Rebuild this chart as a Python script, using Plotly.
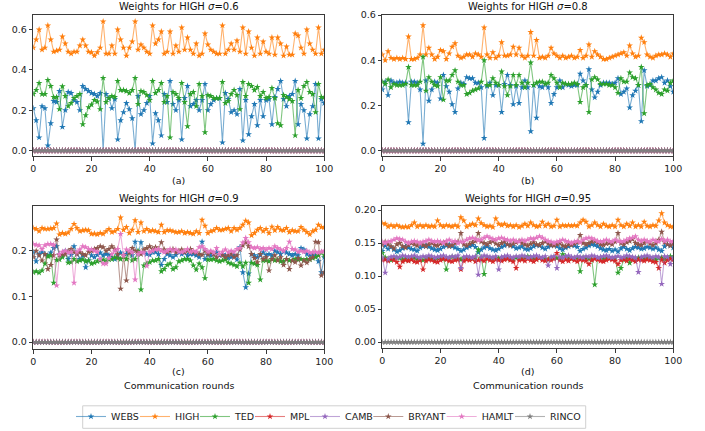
import plotly.graph_objects as go

rounds = list(range(101))
series_names = ["WEBS", "HIGH", "TED", "MPL", "CAMB", "BRYANT", "HAMLT", "RINCO"]
series_colors = ["#1f77b4", "#ff7f0e", "#2ca02c", "#d62728", "#9467bd", "#8c564b", "#e377c2", "#7f7f7f"]
panel_titles = ["Weights for HIGH <i>σ</i>=0.6", "Weights for HIGH <i>σ</i>=0.8",
                "Weights for HIGH <i>σ</i>=0.9", "Weights for HIGH <i>σ</i>=0.95"]
panel_letters = ["(a)", "(b)", "(c)", "(d)"]
x_label = "Communication rounds"
x_ticks = [0, 20, 40, 60, 80, 100]
y_ticks = [[0.0, 0.2, 0.4, 0.6], [0.0, 0.2, 0.4, 0.6], [0.0, 0.1, 0.2], [0.0, 0.05, 0.10, 0.15, 0.20]]
y_ticktext = [["0.0", "0.2", "0.4", "0.6"], ["0.0", "0.2", "0.4", "0.6"], ["0.0", "0.1", "0.2"],
              ["0.00", "0.05", "0.10", "0.15", "0.20"]]

zeros = [0.0] * 101

# ---------------- panel (a) sigma = 0.6 ----------------
HIGH_a = [0.51, 0.55, 0.60, 0.50, 0.51, 0.62, 0.55, 0.49, 0.495, 0.50,
          0.565, 0.53, 0.49, 0.48, 0.49, 0.49, 0.52, 0.55, 0.52, 0.49,
          0.487, 0.47, 0.487, 0.51, 0.64, 0.48, 0.48, 0.52, 0.48, 0.60,
          0.55, 0.51, 0.47, 0.51, 0.54, 0.64, 0.50, 0.525, 0.51, 0.49,
          0.48, 0.62, 0.53, 0.55, 0.59, 0.48, 0.49, 0.59, 0.48, 0.52,
          0.49, 0.61, 0.50, 0.56, 0.50, 0.48, 0.53, 0.47, 0.48, 0.58,
          0.525, 0.50, 0.49, 0.48, 0.48, 0.62, 0.48, 0.50, 0.53, 0.50,
          0.545, 0.49, 0.61, 0.48, 0.59, 0.51, 0.47, 0.56, 0.48, 0.54,
          0.49, 0.48, 0.56, 0.475, 0.56, 0.53, 0.47, 0.515, 0.475, 0.475,
          0.58, 0.57, 0.51, 0.48, 0.60, 0.53, 0.50, 0.48, 0.61, 0.48,
          0.50]
WEBS_a = [0.21, 0.15, 0.065, 0.22, 0.21, 0.025, 0.135, 0.245, 0.24, 0.295,
          0.117, 0.20, 0.29, 0.285, 0.25, 0.24, 0.20, 0.32, 0.305, 0.295,
          0.285, 0.28, 0.27, 0.285, 0.0, 0.28, 0.26, 0.21, 0.255, 0.055,
          0.15, 0.19, 0.235, 0.205, 0.16, 0.0, 0.27, 0.18, 0.20, 0.235,
          0.27, 0.035, 0.185, 0.15, 0.075, 0.28, 0.24, 0.345, 0.23, 0.20,
          0.25, 0.055, 0.26, 0.32, 0.22, 0.23, 0.25, 0.20, 0.25, 0.33,
          0.20, 0.23, 0.25, 0.26, 0.26, 0.04, 0.285, 0.255, 0.19, 0.20,
          0.18, 0.305, 0.05, 0.25, 0.08, 0.17, 0.23, 0.125, 0.25, 0.17,
          0.25, 0.255, 0.13, 0.265, 0.305, 0.345, 0.255, 0.22, 0.27, 0.28,
          0.345, 0.13, 0.23, 0.20, 0.06, 0.18, 0.22, 0.33, 0.06, 0.255,
          0.235]
TED_a = [0.28, 0.30, 0.335, 0.28, 0.28, 0.35, 0.32, 0.265, 0.265, 0.205,
         0.318, 0.27, 0.22, 0.235, 0.26, 0.27, 0.28, 0.13, 0.175, 0.215,
         0.228, 0.25, 0.243, 0.205, 0.36, 0.24, 0.26, 0.27, 0.265, 0.345,
         0.30, 0.30, 0.295, 0.285, 0.30, 0.36, 0.23, 0.295, 0.29, 0.275,
         0.25, 0.345, 0.285, 0.30, 0.335, 0.24, 0.27, 0.065, 0.29, 0.28,
         0.26, 0.335, 0.24, 0.12, 0.28, 0.29, 0.22, 0.33, 0.27, 0.09,
         0.275, 0.27, 0.26, 0.26, 0.26, 0.34, 0.235, 0.245, 0.28, 0.30,
         0.275, 0.205, 0.34, 0.27, 0.33, 0.32, 0.30, 0.315, 0.27, 0.29,
         0.26, 0.265, 0.31, 0.26, 0.135, 0.125, 0.275, 0.265, 0.255, 0.245,
         0.075, 0.30, 0.26, 0.32, 0.34, 0.29, 0.28, 0.19, 0.33, 0.265,
         0.265]

# ---------------- panel (b) sigma = 0.8 ----------------
HIGH_b = [0.425, 0.40, 0.44, 0.41, 0.405, 0.41, 0.405, 0.41, 0.405, 0.505,
          0.405, 0.405, 0.41, 0.425, 0.555, 0.425, 0.455, 0.425, 0.405, 0.415,
          0.445, 0.44, 0.405, 0.43, 0.46, 0.475, 0.42, 0.41, 0.415, 0.425,
          0.425, 0.415, 0.43, 0.425, 0.415, 0.545, 0.425, 0.41, 0.435, 0.41,
          0.42, 0.48, 0.42, 0.42, 0.425, 0.46, 0.425, 0.455, 0.42, 0.41,
          0.42, 0.525, 0.42, 0.49, 0.41, 0.415, 0.41, 0.42, 0.455, 0.43,
          0.42, 0.41, 0.42, 0.41, 0.415, 0.42, 0.41, 0.415, 0.445, 0.41,
          0.42, 0.47, 0.415, 0.44, 0.425, 0.415, 0.405, 0.405, 0.41, 0.415,
          0.42, 0.425, 0.43, 0.435, 0.42, 0.465, 0.43, 0.415, 0.42, 0.50,
          0.48, 0.425, 0.415, 0.41, 0.42, 0.425, 0.425, 0.43, 0.425, 0.415,
          0.43]
WEBS_b = [0.27, 0.305, 0.245, 0.31, 0.30, 0.30, 0.305, 0.30, 0.30, 0.125,
          0.305, 0.305, 0.30, 0.27, 0.03, 0.31, 0.22, 0.27, 0.305, 0.30,
          0.23, 0.335, 0.285, 0.26, 0.205, 0.17, 0.275, 0.30, 0.295, 0.325,
          0.32, 0.32, 0.30, 0.30, 0.28, 0.055, 0.285, 0.30, 0.245, 0.29,
          0.29, 0.17, 0.295, 0.335, 0.29, 0.205, 0.285, 0.21, 0.28, 0.31,
          0.28, 0.085, 0.29, 0.145, 0.285, 0.28, 0.295, 0.28, 0.21, 0.25,
          0.28, 0.31, 0.28, 0.295, 0.29, 0.285, 0.29, 0.29, 0.34, 0.31,
          0.29, 0.36, 0.27, 0.235, 0.26, 0.29, 0.30, 0.30, 0.30, 0.295,
          0.30, 0.32, 0.25, 0.26, 0.275, 0.19, 0.245, 0.265, 0.29, 0.13,
          0.355, 0.285, 0.29, 0.31, 0.31, 0.32, 0.325, 0.30, 0.31, 0.285,
          0.26]
TED_b = [0.305, 0.295, 0.315, 0.28, 0.295, 0.29, 0.29, 0.29, 0.295, 0.37,
         0.29, 0.29, 0.29, 0.305, 0.415, 0.265, 0.325, 0.305, 0.29, 0.285,
         0.325, 0.225, 0.31, 0.31, 0.335, 0.355, 0.305, 0.29, 0.29, 0.25,
         0.255, 0.265, 0.27, 0.275, 0.305, 0.40, 0.29, 0.29, 0.32, 0.30,
         0.29, 0.35, 0.285, 0.245, 0.285, 0.335, 0.29, 0.335, 0.30, 0.28,
         0.30, 0.39, 0.29, 0.30, 0.305, 0.305, 0.295, 0.30, 0.335, 0.32,
         0.30, 0.28, 0.30, 0.295, 0.295, 0.295, 0.30, 0.295, 0.215, 0.28,
         0.29, 0.17, 0.315, 0.325, 0.315, 0.295, 0.295, 0.295, 0.29, 0.29,
         0.28, 0.255, 0.32, 0.305, 0.305, 0.345, 0.325, 0.32, 0.29, 0.37,
         0.165, 0.29, 0.295, 0.28, 0.27, 0.255, 0.25, 0.27, 0.265, 0.30,
         0.31]

# ---------------- panel (c) sigma = 0.9 ----------------
HIGH_c = [0.25, 0.248, 0.243, 0.25, 0.248, 0.248, 0.249, 0.25, 0.26, 0.236,
          0.239, 0.237, 0.24, 0.248, 0.259, 0.25, 0.243, 0.245, 0.246, 0.245,
          0.237, 0.238, 0.236, 0.239, 0.237, 0.243, 0.248, 0.241, 0.243, 0.248,
          0.273, 0.246, 0.252, 0.239, 0.246, 0.267, 0.241, 0.262, 0.243, 0.248,
          0.243, 0.245, 0.243, 0.241, 0.257, 0.241, 0.245, 0.245, 0.243, 0.241,
          0.241, 0.243, 0.239, 0.241, 0.239, 0.237, 0.243, 0.239, 0.268, 0.255,
          0.239, 0.243, 0.245, 0.25, 0.246, 0.246, 0.248, 0.25, 0.243, 0.25,
          0.246, 0.25, 0.257, 0.266, 0.262, 0.234, 0.239, 0.246, 0.25, 0.243,
          0.248, 0.239, 0.253, 0.245, 0.252, 0.246, 0.245, 0.25, 0.241, 0.245,
          0.243, 0.243, 0.252, 0.246, 0.241, 0.236, 0.243, 0.246, 0.257, 0.252,
          0.252]
WEBS_c = [0.197, 0.177, 0.193, 0.197, 0.193, 0.19, 0.196, 0.206, 0.21, 0.193,
          0.19, 0.20, 0.182, 0.191, 0.21, 0.193, 0.182, 0.19, 0.164, 0.179,
          0.19, 0.186, 0.191, 0.196, 0.19, 0.193, 0.191, 0.186, 0.182, 0.19,
          0.196, 0.19, 0.193, 0.197, 0.19, 0.22, 0.193, 0.219, 0.196, 0.193,
          0.191, 0.197, 0.197, 0.193, 0.169, 0.182, 0.193, 0.19, 0.186, 0.191,
          0.197, 0.193, 0.196, 0.19, 0.193, 0.193, 0.19, 0.186, 0.22, 0.182,
          0.191, 0.19, 0.193, 0.197, 0.19, 0.193, 0.19, 0.184, 0.186, 0.19,
          0.181, 0.208, 0.153, 0.12, 0.15, 0.193, 0.19, 0.186, 0.19, 0.197,
          0.191, 0.193, 0.19, 0.20, 0.197, 0.193, 0.199, 0.196, 0.193, 0.19,
          0.193, 0.19, 0.206, 0.203, 0.193, 0.191, 0.193, 0.19, 0.177, 0.153,
          0.186]
TED_c = [0.153, 0.155, 0.152, 0.157, 0.172, 0.188, 0.19, 0.13, 0.18, 0.181,
         0.186, 0.197, 0.174, 0.175, 0.182, 0.177, 0.179, 0.181, 0.177, 0.179,
         0.172, 0.174, 0.177, 0.179, 0.181, 0.177, 0.181, 0.182, 0.186, 0.184,
         0.182, 0.19, 0.182, 0.197, 0.179, 0.182, 0.20, 0.115, 0.168, 0.172,
         0.175, 0.179, 0.179, 0.182, 0.155, 0.16, 0.169, 0.172, 0.16, 0.164,
         0.177, 0.179, 0.182, 0.182, 0.179, 0.168, 0.159, 0.172, 0.164, 0.14,
         0.181, 0.181, 0.182, 0.179, 0.177, 0.179, 0.181, 0.174, 0.172, 0.169,
         0.166, 0.174, 0.166, 0.174, 0.13, 0.174, 0.172, 0.169, 0.137, 0.179,
         0.179, 0.177, 0.182, 0.179, 0.181, 0.177, 0.177, 0.182, 0.179, 0.179,
         0.182, 0.181, 0.182, 0.179, 0.182, 0.181, 0.184, 0.186, 0.19, 0.197,
         0.19]
BRYANT_c = [0.186, 0.20, 0.19, 0.179, 0.193, 0.16, 0.169, 0.19, 0.225, 0.19,
            0.193, 0.193, 0.20, 0.204, 0.198, 0.193, 0.197, 0.193, 0.19, 0.198,
            0.20, 0.204, 0.206, 0.21, 0.208, 0.20, 0.204, 0.21, 0.204, 0.193,
            0.117, 0.19, 0.135, 0.196, 0.206, 0.20, 0.197, 0.193, 0.203, 0.206,
            0.21, 0.204, 0.208, 0.204, 0.219, 0.203, 0.197, 0.20, 0.204, 0.197,
            0.20, 0.203, 0.197, 0.20, 0.204, 0.198, 0.196, 0.193, 0.191, 0.20,
            0.193, 0.197, 0.193, 0.186, 0.193, 0.19, 0.186, 0.19, 0.193, 0.186,
            0.19, 0.203, 0.212, 0.219, 0.21, 0.193, 0.184, 0.175, 0.193, 0.182,
            0.186, 0.157, 0.182, 0.19, 0.179, 0.186, 0.169, 0.182, 0.16, 0.179,
            0.175, 0.184, 0.168, 0.179, 0.174, 0.182, 0.186, 0.22, 0.219, 0.146,
            0.153]
HAMLT_c = [0.215, 0.213, 0.212, 0.204, 0.212, 0.215, 0.215, 0.213, 0.124, 0.193,
           0.198, 0.20, 0.196, 0.198, 0.13, 0.198, 0.203, 0.21, 0.208, 0.204,
           0.203, 0.20, 0.198, 0.182, 0.172, 0.172, 0.184, 0.193, 0.20, 0.204,
           0.237, 0.19, 0.203, 0.20, 0.197, 0.137, 0.193, 0.197, 0.196, 0.167,
           0.198, 0.20, 0.203, 0.204, 0.20, 0.197, 0.20, 0.204, 0.20, 0.203,
           0.198, 0.197, 0.20, 0.204, 0.197, 0.20, 0.198, 0.208, 0.21, 0.204,
           0.198, 0.20, 0.196, 0.206, 0.193, 0.198, 0.203, 0.197, 0.20, 0.198,
           0.204, 0.206, 0.218, 0.228, 0.219, 0.208, 0.206, 0.208, 0.204, 0.206,
           0.203, 0.206, 0.204, 0.21, 0.206, 0.203, 0.20, 0.206, 0.22, 0.204,
           0.203, 0.198, 0.20, 0.198, 0.20, 0.196, 0.197, 0.198, 0.196, 0.198,
           0.20]

# ---------------- panel (d) sigma = 0.95 ----------------
HIGH_d = [0.18, 0.179, 0.175, 0.177, 0.175, 0.177, 0.175, 0.174, 0.175, 0.174,
          0.177, 0.181, 0.175, 0.177, 0.175, 0.177, 0.175, 0.176, 0.175, 0.184,
          0.177, 0.175, 0.177, 0.176, 0.175, 0.177, 0.175, 0.189, 0.184, 0.175,
          0.177, 0.179, 0.177, 0.187, 0.18, 0.177, 0.175, 0.176, 0.174, 0.187,
          0.179, 0.177, 0.179, 0.176, 0.177, 0.175, 0.177, 0.174, 0.176, 0.179,
          0.176, 0.181, 0.177, 0.175, 0.176, 0.182, 0.176, 0.179, 0.175, 0.176,
          0.185, 0.175, 0.177, 0.176, 0.177, 0.176, 0.177, 0.176, 0.181, 0.185,
          0.182, 0.175, 0.177, 0.181, 0.177, 0.175, 0.179, 0.176, 0.175, 0.177,
          0.175, 0.185, 0.177, 0.175, 0.179, 0.176, 0.181, 0.175, 0.177, 0.175,
          0.182, 0.176, 0.175, 0.177, 0.176, 0.184, 0.195, 0.181, 0.177, 0.175,
          0.175]
HAMLT_d = [0.152, 0.15, 0.152, 0.153, 0.155, 0.157, 0.156, 0.155, 0.152, 0.15,
           0.152, 0.153, 0.152, 0.15, 0.152, 0.153, 0.155, 0.153, 0.152, 0.153,
           0.152, 0.15, 0.153, 0.155, 0.152, 0.153, 0.15, 0.152, 0.152, 0.155,
           0.157, 0.158, 0.156, 0.154, 0.155, 0.158, 0.16, 0.158, 0.156, 0.155,
           0.157, 0.158, 0.156, 0.155, 0.153, 0.155, 0.153, 0.152, 0.155, 0.153,
           0.155, 0.157, 0.156, 0.158, 0.16, 0.158, 0.155, 0.153, 0.152, 0.15,
           0.152, 0.153, 0.155, 0.153, 0.152, 0.15, 0.152, 0.153, 0.151, 0.155,
           0.157, 0.158, 0.157, 0.155, 0.153, 0.152, 0.153, 0.155, 0.153, 0.152,
           0.155, 0.153, 0.152, 0.153, 0.155, 0.157, 0.158, 0.16, 0.155, 0.153,
           0.155, 0.153, 0.152, 0.155, 0.153, 0.152, 0.156, 0.153, 0.155, 0.152,
           0.153]
BRYANT_d = [0.147, 0.152, 0.148, 0.145, 0.142, 0.148, 0.15, 0.145, 0.143, 0.147,
            0.15, 0.148, 0.146, 0.149, 0.147, 0.145, 0.148, 0.15, 0.147, 0.146,
            0.149, 0.151, 0.148, 0.145, 0.147, 0.15, 0.152, 0.165, 0.148, 0.146,
            0.149, 0.151, 0.153, 0.165, 0.152, 0.15, 0.148, 0.151, 0.153, 0.149,
            0.147, 0.15, 0.152, 0.148, 0.146, 0.149, 0.151, 0.153, 0.15, 0.148,
            0.146, 0.149, 0.151, 0.148, 0.147, 0.15, 0.152, 0.149, 0.147, 0.146,
            0.148, 0.15, 0.146, 0.145, 0.148, 0.147, 0.149, 0.151, 0.162, 0.15,
            0.148, 0.15, 0.152, 0.153, 0.151, 0.148, 0.147, 0.149, 0.15, 0.148,
            0.152, 0.165, 0.15, 0.148, 0.151, 0.153, 0.156, 0.15, 0.148, 0.147,
            0.15, 0.152, 0.149, 0.147, 0.15, 0.155, 0.167, 0.151, 0.148, 0.146,
            0.149]
WEBS_d = [0.138, 0.146, 0.141, 0.144, 0.14, 0.137, 0.139, 0.142, 0.145, 0.143,
          0.141, 0.14, 0.138, 0.143, 0.145, 0.147, 0.144, 0.142, 0.14, 0.139,
          0.141, 0.144, 0.146, 0.148, 0.145, 0.143, 0.141, 0.138, 0.14, 0.143,
          0.145, 0.147, 0.144, 0.136, 0.14, 0.143, 0.145, 0.142, 0.14, 0.139,
          0.141, 0.144, 0.146, 0.148, 0.147, 0.145, 0.142, 0.143, 0.145, 0.141,
          0.14, 0.142, 0.145, 0.147, 0.146, 0.143, 0.141, 0.144, 0.146, 0.148,
          0.145, 0.142, 0.14, 0.143, 0.145, 0.147, 0.146, 0.144, 0.138, 0.141,
          0.143, 0.146, 0.148, 0.147, 0.145, 0.142, 0.14, 0.139, 0.141, 0.138,
          0.14, 0.137, 0.142, 0.144, 0.141, 0.139, 0.142, 0.144, 0.143, 0.141,
          0.142, 0.144, 0.143, 0.141, 0.143, 0.14, 0.138, 0.145, 0.148, 0.146,
          0.143]
TED_d = [0.135, 0.128, 0.125, 0.124, 0.126, 0.128, 0.127, 0.125, 0.126, 0.124,
         0.127, 0.128, 0.126, 0.125, 0.124, 0.127, 0.128, 0.126, 0.125, 0.127,
         0.128, 0.126, 0.11, 0.127, 0.129, 0.128, 0.126, 0.125, 0.127, 0.128,
         0.127, 0.126, 0.128, 0.14, 0.127, 0.103, 0.128, 0.127, 0.126, 0.128,
         0.127, 0.126, 0.128, 0.127, 0.125, 0.126, 0.128, 0.127, 0.126, 0.128,
         0.13, 0.128, 0.127, 0.126, 0.128, 0.127, 0.126, 0.125, 0.127, 0.128,
         0.127, 0.126, 0.133, 0.13, 0.128, 0.126, 0.127, 0.128, 0.107, 0.128,
         0.127, 0.126, 0.125, 0.087, 0.127, 0.128, 0.126, 0.127, 0.128, 0.126,
         0.127, 0.105, 0.112, 0.125, 0.128, 0.12, 0.127, 0.126, 0.128, 0.127,
         0.126, 0.128, 0.127, 0.126, 0.125, 0.127, 0.128, 0.126, 0.127, 0.13,
         0.128]
MPL_d = [0.124, 0.125, 0.123, 0.126, 0.124, 0.121, 0.114, 0.122, 0.124, 0.123,
         0.125, 0.122, 0.121, 0.124, 0.11, 0.123, 0.125, 0.124, 0.122, 0.121,
         0.124, 0.126, 0.125, 0.123, 0.122, 0.124, 0.125, 0.11, 0.123, 0.125,
         0.124, 0.126, 0.122, 0.124, 0.125, 0.123, 0.126, 0.124, 0.122, 0.125,
         0.124, 0.123, 0.125, 0.126, 0.124, 0.122, 0.112, 0.124, 0.125, 0.123,
         0.126, 0.124, 0.122, 0.125, 0.127, 0.124, 0.123, 0.125, 0.124, 0.126,
         0.135, 0.124, 0.122, 0.125, 0.123, 0.126, 0.124, 0.122, 0.125, 0.124,
         0.123, 0.118, 0.124, 0.126, 0.125, 0.123, 0.122, 0.124, 0.126, 0.125,
         0.123, 0.118, 0.124, 0.125, 0.123, 0.126, 0.124, 0.122, 0.125, 0.124,
         0.123, 0.125, 0.124, 0.122, 0.121, 0.112, 0.125, 0.12, 0.124, 0.126,
         0.125]
CAMB_d = [0.128, 0.105, 0.126, 0.129, 0.13, 0.128, 0.129, 0.131, 0.13, 0.129,
          0.13, 0.131, 0.129, 0.128, 0.13, 0.129, 0.131, 0.13, 0.128, 0.129,
          0.13, 0.131, 0.129, 0.128, 0.13, 0.129, 0.131, 0.112, 0.129, 0.13,
          0.129, 0.128, 0.13, 0.102, 0.129, 0.131, 0.13, 0.129, 0.128, 0.13,
          0.11, 0.129, 0.13, 0.131, 0.129, 0.128, 0.13, 0.129, 0.131, 0.13,
          0.128, 0.129, 0.13, 0.131, 0.129, 0.128, 0.13, 0.116, 0.129, 0.13,
          0.112, 0.129, 0.128, 0.13, 0.131, 0.129, 0.128, 0.13, 0.129, 0.128,
          0.13, 0.129, 0.131, 0.13, 0.128, 0.129, 0.13, 0.131, 0.129, 0.128,
          0.129, 0.13, 0.128, 0.129, 0.131, 0.13, 0.129, 0.128, 0.106, 0.129,
          0.13, 0.131, 0.129, 0.128, 0.13, 0.129, 0.088, 0.13, 0.129, 0.118,
          0.128]

panels = [
    {"WEBS": WEBS_a, "HIGH": HIGH_a, "TED": TED_a, "MPL": zeros, "CAMB": zeros,
     "BRYANT": zeros, "HAMLT": zeros, "RINCO": zeros},
    {"WEBS": WEBS_b, "HIGH": HIGH_b, "TED": TED_b, "MPL": zeros, "CAMB": zeros,
     "BRYANT": zeros, "HAMLT": zeros, "RINCO": zeros},
    {"WEBS": WEBS_c, "HIGH": HIGH_c, "TED": TED_c, "MPL": zeros, "CAMB": zeros,
     "BRYANT": BRYANT_c, "HAMLT": HAMLT_c, "RINCO": zeros},
    {"WEBS": WEBS_d, "HIGH": HIGH_d, "TED": TED_d, "MPL": MPL_d, "CAMB": CAMB_d,
     "BRYANT": BRYANT_d, "HAMLT": HAMLT_d, "RINCO": zeros},
]

# ---------------- layout geometry (pixels of the 705x431 window) ----------------
W, H = 705, 431
x_doms_px = [(33.3, 324.3), (382.3, 673.3), (33.3, 324.3), (382.3, 673.3)]
y_doms_px = [(15.0, 156.7), (15.0, 156.7), (206.7, 351.0), (207.3, 350.0)]
y_ranges = [[-0.0267, 0.6725], [-0.024, 0.601], [-0.016, 0.299], [-0.0095, 0.2056]]
title_y_px = [6.7, 6.7, 199.3, 199.3]
letter_y_px = [181.7, 181.7, 373.7, 373.7]
xlabel_y_px = 387.7
legend_line_start_px = [86, 150, 210, 265, 320, 383.3, 456.7, 525]
legend_box_px = (82.7, 407.7, 585.7, 430.3)
legend_mid_y_px = 418.6

FONT = "DejaVu Sans"


def px_x(v):
    return v / W


def px_y(v):
    return (H - v) / H


def rgba(hex_color, a):
    h = hex_color.lstrip("#")
    return "rgba(%d,%d,%d,%.2f)" % (int(h[0:2], 16), int(h[2:4], 16), int(h[4:6], 16), a)


fig = go.Figure()
annotations = []
for p in range(4):
    ax = "" if p == 0 else str(p + 1)
    for k, (name, col) in enumerate(zip(series_names, series_colors)):
        fig.add_trace(go.Scatter(
            x=rounds, y=panels[p][name], name=name, mode="lines+markers",
            line=dict(color=rgba(col, 0.6), width=1.1),
            marker=dict(symbol="star", size=5.0, color=col, line=dict(width=0)),
            xaxis="x" + ax, yaxis="y" + ax, showlegend=(p == 0), legendgroup=name,
            legend="legend" if k == 0 else "legend%d" % (k + 1),
        ))
    x0, x1 = x_doms_px[p]
    yt, yb = y_doms_px[p]
    axis_common = dict(showline=True, mirror=True, linecolor="#3a3a3a", linewidth=1.2,
                       ticks="outside", ticklen=3.5, tickwidth=1, tickcolor="#3a3a3a",
                       showgrid=False, zeroline=False, automargin=False,
                       tickfont=dict(family=FONT, size=9.5, color="#222"))
    fig.layout["xaxis" + ax] = dict(domain=[px_x(x0), px_x(x1)], range=[0, 100],
                                    tickmode="array", tickvals=x_ticks,
                                    anchor="y" + ax, **axis_common)
    fig.layout["yaxis" + ax] = dict(domain=[px_y(yb), px_y(yt)], range=y_ranges[p],
                                    tickmode="array", tickvals=y_ticks[p], ticktext=y_ticktext[p],
                                    anchor="x" + ax, **axis_common)
    xc = px_x((x0 + x1) / 2)
    annotations.append(dict(text=panel_titles[p], x=xc, y=px_y(title_y_px[p]),
                            xref="paper", yref="paper", showarrow=False,
                            xanchor="center", yanchor="middle",
                            font=dict(family=FONT, size=10, color="#111")))
    annotations.append(dict(text=panel_letters[p], x=xc, y=px_y(letter_y_px[p]),
                            xref="paper", yref="paper", showarrow=False,
                            xanchor="center", yanchor="middle",
                            font=dict(family=FONT, size=9.5, color="#111")))
    if p >= 2:
        annotations.append(dict(text=x_label, x=xc, y=px_y(xlabel_y_px),
                                xref="paper", yref="paper", showarrow=False,
                                xanchor="center", yanchor="middle",
                                font=dict(family=FONT, size=9.5, color="#111")))

# one legend per entry so each entry sits where it does in the reference
legend_layout = {}
for k, xs in enumerate(legend_line_start_px):
    key = "legend" if k == 0 else "legend%d" % (k + 1)
    legend_layout[key] = dict(orientation="h", x=px_x(xs - 15), xanchor="left",
                              y=px_y(legend_mid_y_px), yanchor="middle",
                              borderwidth=0, bgcolor="rgba(0,0,0,0)",
                              font=dict(family=FONT, size=9.5, color="#222"),
                              itemwidth=30)

bx0, by0, bx1, by1 = legend_box_px
fig.update_layout(
    width=W, height=H, margin=dict(l=0, r=0, t=0, b=0),
    paper_bgcolor="white", plot_bgcolor="white",
    font=dict(family=FONT, size=9.5, color="#222"),
    annotations=annotations,
    shapes=[dict(type="rect", xref="paper", yref="paper",
                 x0=px_x(bx0), x1=px_x(bx1), y0=px_y(by1), y1=px_y(by0),
                 line=dict(color="#d0d0d0", width=1), fillcolor="rgba(0,0,0,0)",
                 layer="below")],
    **legend_layout,
)

# the page's default 8px body margin would push the figure out of the window
fig.write_html("out.html", config={"displayModeBar": False},
               post_script="document.body.style.margin='0px';")
